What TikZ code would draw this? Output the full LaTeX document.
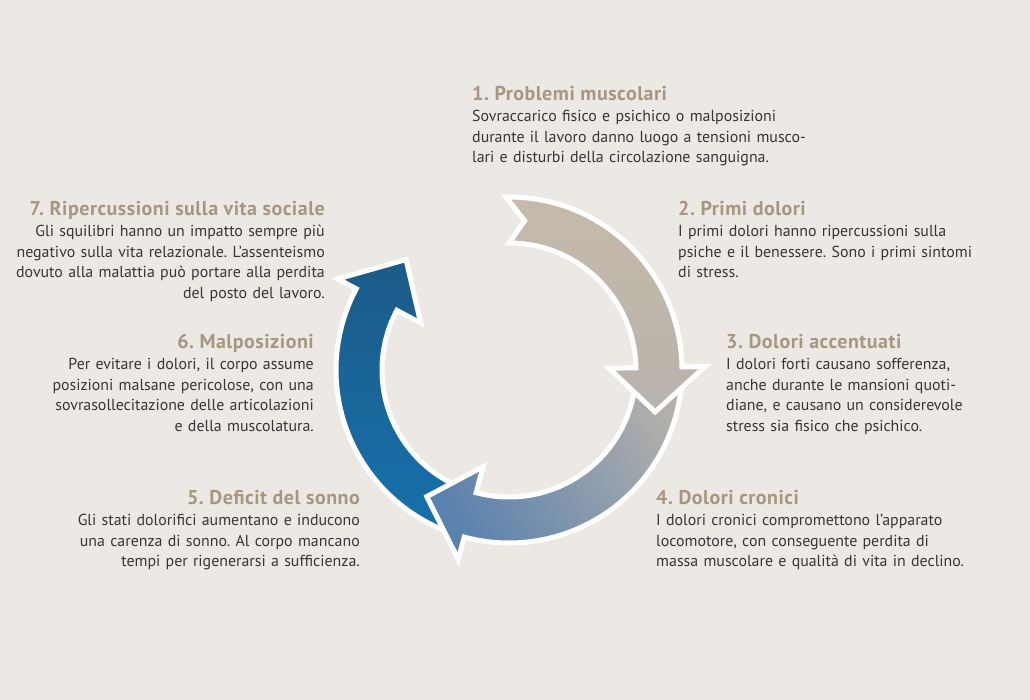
\documentclass[tikz,border=0pt]{standalone}
\usepackage{fontspec}
\setmainfont{PT Sans}
\usepackage{tikz}
\definecolor{bgc}{HTML}{ECE9E4}
\definecolor{ttlc}{HTML}{A59782}
\definecolor{txtc}{HTML}{363636}
\definecolor{beigeA}{HTML}{C6BAAA}
\definecolor{beigeB}{HTML}{B8B3AD}
\definecolor{grayA}{HTML}{B2AFAC}
\definecolor{grayB}{HTML}{5A82AE}
\definecolor{blueA}{HTML}{1C5B88}
\definecolor{blueB}{HTML}{1671AC}
\frenchspacing

\begin{document}
\begin{tikzpicture}[x=1pt,y=1pt,
		ring/.style={draw=white,line width=5pt,line join=miter},
		ttl/.style={text=ttlc,font=\fontsize{20}{22}\selectfont\bfseries\addfontfeature{LetterSpace=2.5},inner sep=0pt},
		body/.style={text=txtc,font=\fontsize{15.9}{20.6}\selectfont,inner sep=0pt,text width=400pt}]
			\fill[bgc] (-509,-330) rectangle (521,370);
			\useasboundingbox (-509,-330) rectangle (521,370);
			% blue arrow (6-7)
			\path[ring,top color=blueA,bottom color=blueB] (-110:173) arc[start angle=-110,end angle=-208,radius=173] -- (-208:194) -- (-227:151) -- (-208:100) -- (-208:127) arc[start angle=-208,end angle=-110,radius=127] -- cycle;
			% gray arrow (3-5)
			\path[ring,top color=grayA,bottom color=grayB,shading angle=-60] (2:173) arc[start angle=2,end angle=-105,radius=173] -- (-105:196) -- (-123:151) -- (-105:100) -- (-105:127) arc[start angle=-105,end angle=2,radius=127] -- cycle;
			% beige arrow (1-2)
			\path[ring,top color=beigeA,bottom color=beigeB] (91:173) arc[start angle=91,end angle=1,radius=173] -- (1:196) -- (-16:152) -- (1:100) -- (1:127) arc[start angle=1,end angle=90,radius=127] -- (84:150) -- cycle;
			% texts
			\node[ttl,anchor=base west] (h1) at (-37,269) {1. Problemi muscolari};
			\node[body,anchor=base west,align=left] (b1) at ([yshift=-20.6pt]h1.base west) {Sovraccarico fisico e psichico o malposizioni\\durante il lavoro danno luogo a tensioni musco-\\lari e disturbi della circolazione sanguigna.};
			\node[ttl,anchor=base west] (h2) at (169,154) {2. Primi dolori};
			\node[body,anchor=base west,align=left] (b2) at ([yshift=-20.6pt]h2.base west) {I primi dolori hanno ripercussioni sulla\\psiche e il benessere. Sono i primi sintomi\\di stress.};
			\node[ttl,anchor=base west] (h3) at (217,21) {3. Dolori accentuati};
			\node[body,anchor=base west,align=left] (b3) at ([yshift=-20.6pt]h3.base west) {I dolori forti causano sofferenza,\\anche durante le mansioni quoti-\\diane, e causano un considerevole\\stress sia fisico che psichico.};
			\node[ttl,anchor=base west] (h4) at (147,-135) {4. Dolori cronici};
			\node[body,anchor=base west,align=left] (b4) at ([yshift=-20.6pt]h4.base west) {I dolori cronici compromettono l’apparato\\locomotore, con conseguente perdita di\\massa muscolare e qualità di vita in declino.};
			\node[ttl,anchor=base east] (h5) at (-149,-135) {5. Deficit del sonno};
			\node[body,anchor=base east,align=right] (b5) at ([yshift=-20.6pt]h5.base east) {Gli stati dolorifici aumentano e inducono\\una carenza di sonno. Al corpo mancano\\tempi per rigenerarsi a sufficienza.};
			\node[ttl,anchor=base east] (h6) at (-195,21) {6. Malposizioni};
			\node[body,anchor=base east,align=right] (b6) at ([yshift=-20.6pt]h6.base east) {Per evitare i dolori, il corpo assume\\posizioni malsane pericolose, con una\\sovrasollecitazione delle articolazioni\\e della muscolatura.};
			\node[ttl,anchor=base east] (h7) at (-184,154) {7. Ripercussioni sulla vita sociale};
			\node[body,anchor=base east,align=right] (b7) at ([yshift=-20.6pt]h7.base east) {Gli squilibri hanno un impatto sempre più\\negativo sulla vita relazionale. L’assenteismo\\dovuto alla malattia può portare alla perdita\\del posto del lavoro.};
		\end{tikzpicture}
\end{document}
